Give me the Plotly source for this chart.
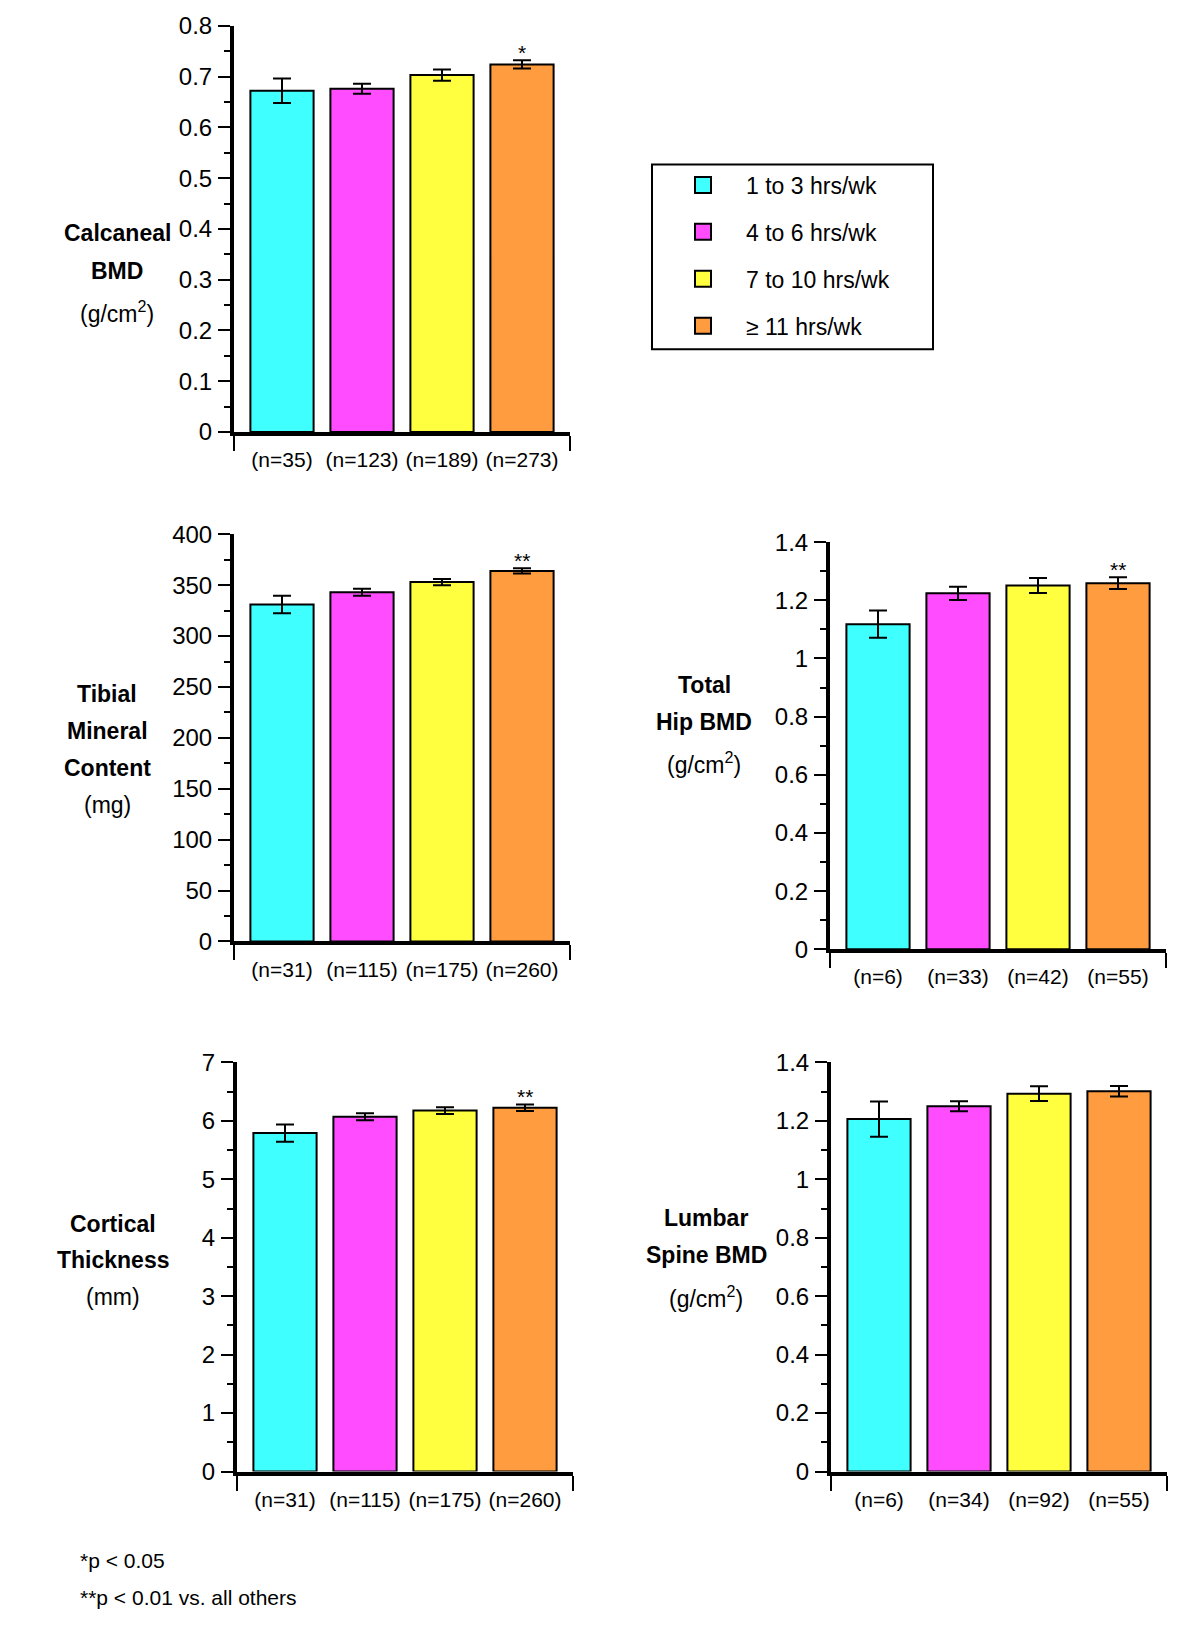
import plotly.graph_objects as go

W, H = 1200, 1635

groups = ["1 to 3 hrs/wk", "4 to 6 hrs/wk", "7 to 10 hrs/wk", "≥ 11 hrs/wk"]
colors = ["#3FFFFF", "#FF4CFF", "#FFFF3F", "#FF9C40"]

calc_vals = [0.672, 0.676, 0.703, 0.724]
calc_err = [0.024, 0.010, 0.011, 0.008]
calc_n = ["(n=35)", "(n=123)", "(n=189)", "(n=273)"]
calc_sig = ["", "", "", "*"]

tib_vals = [331, 343, 353, 364]
tib_err = [8.5, 3.5, 3.0, 2.5]
tib_n = ["(n=31)", "(n=115)", "(n=175)", "(n=260)"]
tib_sig = ["", "", "", "**"]

hip_vals = [1.118, 1.224, 1.251, 1.259]
hip_err = [0.047, 0.023, 0.026, 0.020]
hip_n = ["(n=6)", "(n=33)", "(n=42)", "(n=55)"]
hip_sig = ["", "", "", "**"]

cort_vals = [5.79, 6.07, 6.175, 6.225]
cort_err = [0.147, 0.060, 0.058, 0.055]
cort_n = ["(n=31)", "(n=115)", "(n=175)", "(n=260)"]
cort_sig = ["", "", "", "**"]

lum_vals = [1.206, 1.250, 1.293, 1.301]
lum_err = [0.060, 0.017, 0.025, 0.018]
lum_n = ["(n=6)", "(n=34)", "(n=92)", "(n=55)"]
lum_sig = ["", "", "", ""]

footnotes = ["*p < 0.05", "**p < 0.01 vs. all others"]

FONT = "Helvetica, Arial, Liberation Sans, sans-serif"

panels = [
    dict(vals=calc_vals, err=calc_err, n=calc_n, sig=calc_sig, ymax=0.8, dt=0.1, mdt=0.05,
         title=[("Calcaneal", True), ("BMD", True), ("(g/cm<sup>2</sup>)", False)],
         xd=(234, 570), yd=(12, 425), tx=117, ty=[223, 261, 303]),
    dict(vals=tib_vals, err=tib_err, n=tib_n, sig=tib_sig, ymax=400, dt=50, mdt=25,
         title=[("Tibial", True), ("Mineral", True), ("Content", True), ("(mg)", False)],
         xd=(234, 570), yd=(529, 943), tx=107, ty=[691, 729, 767, 804]),
    dict(vals=hip_vals, err=hip_err, n=hip_n, sig=hip_sig, ymax=1.4, dt=0.2, mdt=0.1,
         title=[("Total", True), ("Hip BMD", True), ("(g/cm<sup>2</sup>)", False)],
         xd=(830, 1166), yd=(537, 951), tx=704, ty=[682, 720, 762]),
    dict(vals=cort_vals, err=cort_err, n=cort_n, sig=cort_sig, ymax=7, dt=1, mdt=0.5,
         title=[("Cortical", True), ("Thickness", True), ("(mm)", False)],
         xd=(237, 573), yd=(1066, 1482), tx=113, ty=[1230, 1267, 1305]),
    dict(vals=lum_vals, err=lum_err, n=lum_n, sig=lum_sig, ymax=1.4, dt=0.2, mdt=0.1,
         title=[("Lumbar", True), ("Spine BMD", True), ("(g/cm<sup>2</sup>)", False)],
         xd=(831, 1167), yd=(1066, 1482), tx=706, ty=[1224, 1262, 1305]),
]

fig = go.Figure()
annotations = []
layout = {}

for i, p in enumerate(panels):
    sfx = "" if i == 0 else str(i + 1)
    xref, yref = "x" + sfx, "y" + sfx
    for j in range(4):
        fig.add_trace(go.Bar(
            x=[j], y=[p["vals"][j]], width=0.79,
            name=groups[j], legendgroup=groups[j], showlegend=False,
            marker=dict(color=colors[j], line=dict(color="black", width=2)),
            error_y=dict(type="data", array=[p["err"][j]], color="black", thickness=2, width=9),
            xaxis=xref, yaxis=yref, hoverinfo="skip",
        ))
        if p["sig"][j]:
            annotations.append(dict(
                x=j, y=p["vals"][j] + p["err"][j], xref=xref, yref=yref,
                text=p["sig"][j], showarrow=False, yanchor="bottom", yshift=-6,
                font=dict(family=FONT, size=21, color="black"),
            ))
    layout["xaxis" + sfx] = dict(
        domain=[p["xd"][0] / W, p["xd"][1] / W], range=[-0.6, 3.6], anchor=yref,
        showline=True, linewidth=4, linecolor="black", showgrid=False, zeroline=False,
        tickmode="array", tickvals=[0, 1, 2, 3], ticktext=p["n"], ticks="",
        ticklabelstandoff=6, tickfont=dict(family=FONT, size=21, color="black"),
        minor=dict(tickmode="array", tickvals=[-0.6, 3.6], ticks="outside", ticklen=15,
                   tickwidth=2, tickcolor="black", showgrid=False),
        fixedrange=True,
    )
    layout["yaxis" + sfx] = dict(
        domain=[1 - p["yd"][1] / H, 1 - p["yd"][0] / H], range=[0, p["ymax"]], anchor=xref,
        showline=True, linewidth=4, linecolor="black", showgrid=False, zeroline=False,
        dtick=p["dt"], tick0=0, ticks="outside", ticklen=12, tickwidth=2, tickcolor="black",
        tickfont=dict(family=FONT, size=24, color="black"), ticklabelstandoff=1,
        minor=dict(dtick=p["mdt"], tick0=0, ticks="outside", ticklen=6, tickwidth=2,
                   tickcolor="black", showgrid=False),
        fixedrange=True,
    )
    for (txt, bold), yy in zip(p["title"], p["ty"]):
        annotations.append(dict(
            x=p["tx"] / W, y=1 - yy / H, xref="paper", yref="paper",
            text=("<b>%s</b>" % txt) if bold else txt, showarrow=False,
            xanchor="center", yanchor="middle",
            font=dict(family=FONT, size=23, color="black"),
        ))

# legend keys (no data points; they only feed the legend)
for j in range(4):
    fig.add_trace(go.Scatter(
        x=[None], y=[None], mode="markers", name=groups[j], legendgroup=groups[j],
        marker=dict(symbol="square", size=16, color=colors[j], line=dict(color="black", width=2)),
        showlegend=True, hoverinfo="skip",
    ))

for k, (txt, yy) in enumerate(zip(footnotes, [1572, 1610])):
    annotations.append(dict(
        x=78 / W, y=1 - yy / H, xref="paper", yref="paper", text=txt, showarrow=False,
        xanchor="left", yanchor="middle", font=dict(family=FONT, size=21, color="black"),
    ))

# legend frame
shapes = [dict(type="rect", xref="paper", yref="paper",
               x0=652 / W, x1=933 / W, y0=1 - 341 / H, y1=1 - 153 / H,
               line=dict(color="black", width=2), fillcolor="rgba(0,0,0,0)", layer="above")]

fig.update_layout(
    width=W, height=H, margin=dict(l=0, r=0, t=0, b=0),
    paper_bgcolor="white", plot_bgcolor="white",
    barmode="overlay", annotations=annotations, shapes=shapes,
    legend=dict(x=660 / W, y=1 - 152 / H, xanchor="left", yanchor="top",
                borderwidth=0, bgcolor="rgba(0,0,0,0)",
                font=dict(family=FONT, size=23, color="black"),
                tracegroupgap=14, itemwidth=76, traceorder="grouped",
                itemsizing="trace"),
    font=dict(family=FONT, color="black"),
    **layout,
)

fig.write_html("out.html", config={"displayModeBar": False},
               post_script="document.body.style.margin='0px';")
